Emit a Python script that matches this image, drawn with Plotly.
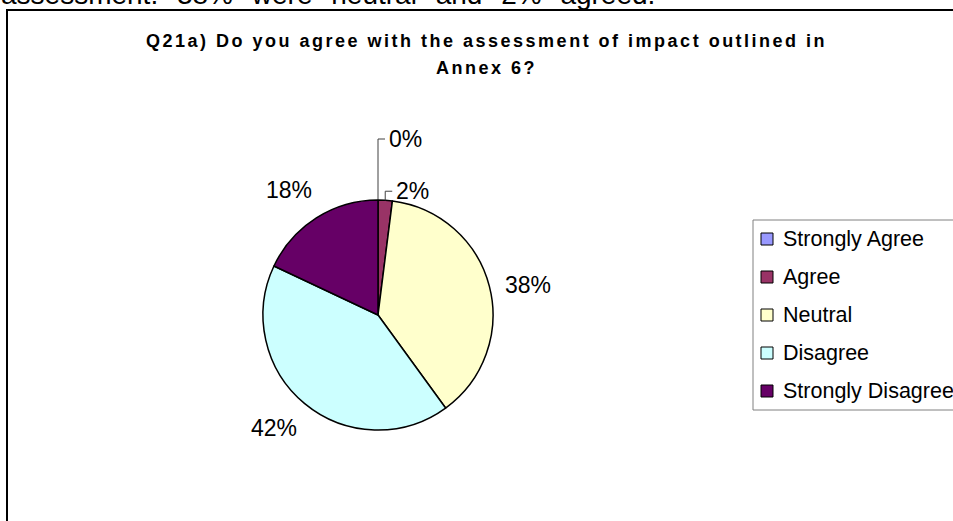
import math
import plotly.graph_objects as go

# ---- data -------------------------------------------------------------
categories = ["Strongly Agree", "Agree", "Neutral", "Disagree", "Strongly Disagree"]
shares = [0, 2, 38, 42, 18]  # percent of responses
title_lines = [
    "Q21a) Do you agree with the assessment of impact outlined in",
    "Annex 6?",
]
caption = "assessment. 38% were neutral and 2% agreed."

# ---- styles -----------------------------------------------------------
colors = ["#9999FF", "#993366", "#FFFFCC", "#CCFFFF", "#660066"]
FONT = "Arial, 'Liberation Sans', sans-serif"
W, H = 953, 521
CX, CY, R = 378, 315, 115          # pie centre and radius (px)
LABEL_DIST = 153                   # label centre distance from pie centre
LABEL_TURN = 3.0                   # degrees labels lean toward the horizontal axis
SMALL = 5                          # slices below this get a leader line
leader_lift = {0: 61, 1: 9}        # vertical leader length for small slices


def px(x):
    return x / W


def py(y):
    return 1 - y / H


fig = go.Figure(
    go.Pie(
        labels=categories,
        values=shares,
        sort=False,
        direction="clockwise",
        rotation=0,
        marker=dict(colors=colors, line=dict(color="black", width=1.5)),
        textinfo="none",
        hoverinfo="label+percent",
        showlegend=False,
        domain=dict(x=[px(CX - R), px(CX + R)], y=[py(CY + R), py(CY - R)]),
    )
)

shapes = []
annotations = []

# chart frame
shapes.append(dict(type="rect", xref="paper", yref="paper",
                   x0=px(7), x1=px(1000), y0=py(600), y1=py(10),
                   line=dict(color="black", width=2), layer="below"))

# data labels placed around the pie from the slice mid-angles
total = sum(shares)
cum = 0
for i, v in enumerate(shares):
    mid_deg = (cum + v / 2) / total * 360
    cum += v
    txt = f"{v}%"
    if v < SMALL:
        mid = math.radians(mid_deg)
        ex, ey = CX + R * math.sin(mid), CY - R * math.cos(mid)
        top = ey - leader_lift.get(i, 10)
        shapes.append(dict(
            type="path", xref="paper", yref="paper",
            path=f"M {px(ex)},{py(ey)} L {px(ex)},{py(top)} L {px(ex + 7)},{py(top)}",
            line=dict(color="#404040", width=1)))
        annotations.append(dict(x=px(ex + 9), y=py(top), xref="paper", yref="paper",
                                text=txt, showarrow=False, xanchor="left", yanchor="middle",
                                font=dict(family=FONT, size=23, color="black")))
    else:
        # lean labels toward the horizontal axis
        turn = LABEL_TURN if (mid_deg % 180) < 90 else -LABEL_TURN
        a = math.radians(mid_deg + turn)
        annotations.append(dict(x=px(CX + LABEL_DIST * math.sin(a)),
                                y=py(CY - LABEL_DIST * math.cos(a)),
                                xref="paper", yref="paper", text=txt, showarrow=False,
                                xanchor="center", yanchor="middle",
                                font=dict(family=FONT, size=23, color="black")))

# title (two centred bold lines)
for text, ty in zip(title_lines, [41, 68]):
    annotations.append(dict(x=px(487), y=py(ty), xref="paper", yref="paper", text=text,
                            showarrow=False, xanchor="center", yanchor="middle",
                            font=dict(family=FONT, size=18, color="black", weight="bold")))

# surrounding document text, cut by the top edge
annotations.append(dict(x=px(-1), y=py(12), xref="paper", yref="paper", text=caption,
                        showarrow=False, xanchor="left", yanchor="bottom", align="left",
                        font=dict(family=FONT, size=28, color="black")))

# legend box
shapes.append(dict(type="rect", xref="paper", yref="paper",
                   x0=px(753), x1=px(1000), y0=py(410), y1=py(220),
                   line=dict(color="#808080", width=1), fillcolor="white"))
for i, (name, col) in enumerate(zip(categories, colors)):
    yc = 239 + 38 * i
    shapes.append(dict(type="rect", xref="paper", yref="paper",
                       x0=px(761), x1=px(773), y0=py(yc + 6), y1=py(yc - 6),
                       line=dict(color="black", width=1), fillcolor=col))
    annotations.append(dict(x=px(781), y=py(yc), xref="paper", yref="paper", text=name,
                            showarrow=False, xanchor="left", yanchor="middle",
                            font=dict(family=FONT, size=21.5, color="black")))

fig.update_layout(
    width=W, height=H,
    margin=dict(l=0, r=0, t=0, b=0),
    paper_bgcolor="white", plot_bgcolor="white",
    shapes=shapes, annotations=annotations,
    showlegend=False,
)

# wide character spacing of the title, justified spacing of the caption
spacing_js = """
var gd = document.getElementById('{plot_id}');
gd.querySelectorAll('text').forEach(function (t) {
  var s = t.textContent;
  if (s.indexOf('Q21a') === 0 || s.indexOf('Annex') === 0) { t.style.letterSpacing = '2.5px'; }
  if (s.indexOf('assessment.') === 0) { t.style.wordSpacing = '11px'; }
});
"""

fig.write_html("out.html", config={"displayModeBar": False}, post_script=spacing_js)
